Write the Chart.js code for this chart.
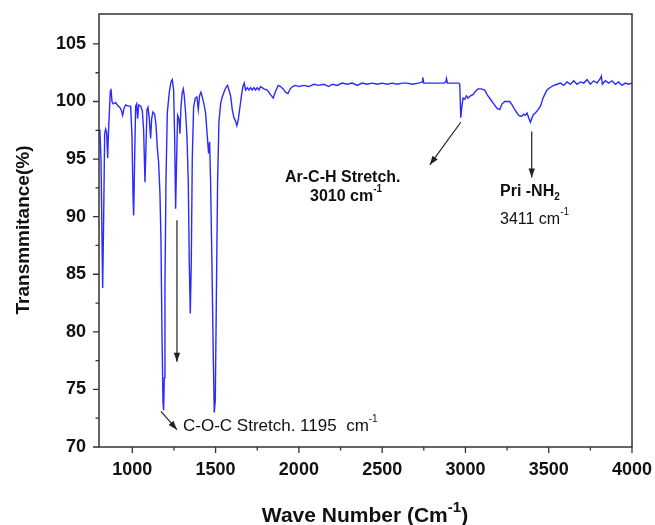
<!DOCTYPE html>
<html>
<head>
<meta charset="utf-8">
<script src="https://cdn.jsdelivr.net/npm/chart.js@4.4.1/dist/chart.umd.min.js"></script>
<style>
  body { margin: 0; background: #fff; }
  canvas { display: block; }
</style>
</head>
<body>
<canvas id="myChart" width="655" height="525"></canvas>
<script>
// FTIR spectrum
const waveNumber = [
  800, 805, 812, 818, 822, 828, 834, 840, 846, 852, 856, 862, 868, 872, 878, 885,
  900, 915, 925, 935, 942, 950, 960, 975, 990, 998, 1004, 1008, 1014, 1020, 1026,
  1032, 1038, 1050, 1060, 1068, 1076, 1082, 1088, 1094, 1102, 1110, 1116, 1124,
  1134, 1142, 1150, 1158, 1166, 1172, 1178, 1184, 1188, 1192, 1196, 1202, 1210,
  1222, 1232, 1240, 1248, 1254, 1260, 1266, 1272, 1280, 1286, 1292, 1300, 1306,
  1312, 1320, 1328, 1336, 1342, 1348, 1354, 1360, 1368, 1378, 1388, 1396, 1404,
  1412, 1420, 1430, 1440, 1450, 1458, 1464, 1470, 1478, 1486, 1492, 1498, 1504,
  1512, 1520, 1530, 1540, 1555, 1565, 1572, 1580, 1590, 1600, 1610, 1620, 1628,
  1636, 1646, 1656, 1664, 1672, 1680, 1690, 1700, 1710, 1720, 1730, 1740, 1750,
  1760, 1770, 1790, 1810, 1830, 1846, 1860, 1876, 1890, 1906, 1920, 1934, 1948,
  1962, 1980, 2000, 2030, 2060, 2090, 2120, 2150, 2180, 2200, 2230, 2260, 2290,
  2320, 2350, 2380, 2410, 2440, 2470, 2500, 2530, 2560, 2590, 2620, 2650, 2680,
  2720, 2740, 2744, 2750, 2790, 2830, 2870, 2882, 2886, 2892, 2930, 2960, 2966,
  2972, 2978, 2986, 2996, 3006, 3016, 3030, 3046, 3060, 3076, 3096, 3116, 3130,
  3150, 3170, 3190, 3206, 3220, 3236, 3250, 3266, 3280, 3300, 3320, 3336, 3350,
  3360, 3370, 3380, 3390, 3400, 3410, 3420, 3436, 3450, 3466, 3476, 3490, 3506,
  3530, 3550, 3570, 3590, 3610, 3630, 3650, 3670, 3690, 3710, 3730, 3750, 3770,
  3790, 3810, 3816, 3822, 3840, 3860, 3880, 3900, 3920, 3940, 3960, 3980, 4000
];
const transmittance = [
  97.5, 97.6, 95.0, 88.0, 83.8, 90.0, 97.2, 97.6, 97.3, 95.1, 97.0, 99.0, 100.9, 101.1, 100.0, 99.8,
  99.9, 99.6, 99.5, 99.2, 98.8, 99.4, 99.7, 99.6, 99.6, 97.0, 92.0, 90.1, 95.0, 99.6, 99.8,
  98.5, 99.7, 99.6, 99.2, 97.5, 93.0, 96.0, 99.3, 99.5, 98.5, 96.8, 98.5, 99.1,
  98.9, 98.0, 96.0, 94.7, 92.0, 88.0, 80.0, 74.0, 73.2, 76.0, 84.0, 93.0, 99.0,
  100.8, 101.7, 101.9, 101.0, 97.0, 90.7, 95.0, 98.8, 98.5, 97.2, 99.5, 100.8, 101.1,
  100.5, 99.0, 97.0, 93.0, 86.0, 81.6, 86.0, 95.0, 99.5, 100.3, 100.4, 99.3, 100.5,
  100.8, 100.4, 99.8, 99.0, 97.0, 95.5, 96.5, 93.0, 86.0, 78.0, 73.0, 74.0, 82.0,
  93.0, 98.2, 99.8, 100.4, 101.0, 101.3, 101.4, 101.0, 100.5, 99.3, 98.6, 98.3, 97.9,
  98.4, 99.5, 100.6, 101.3, 101.6, 101.0, 101.2, 101.0, 101.2, 101.0, 101.2, 101.0, 101.2,
  101.0, 101.3, 101.1, 101.0, 100.6, 100.3, 100.9, 101.4, 101.3, 101.1, 100.8, 100.7, 101.1,
  101.3, 101.4, 101.3, 101.4, 101.3, 101.5, 101.4, 101.5, 101.3, 101.5, 101.4, 101.6, 101.5,
  101.6, 101.4, 101.6, 101.5, 101.6, 101.5, 101.6, 101.5, 101.6, 101.5, 101.6, 101.6, 101.5,
  101.6, 101.7, 102.1, 101.6, 101.6, 101.6, 101.6, 101.7, 102.0, 101.6, 101.6, 101.6, 101.5,
  98.6, 99.5, 100.3, 100.2, 100.5, 100.3, 100.5, 100.6, 100.9, 101.1, 101.1, 101.0, 100.6,
  100.2, 99.8, 99.4, 99.3, 99.8, 100.0, 100.0, 100.0, 99.7, 99.2, 98.8, 98.7, 98.9,
  98.8, 99.0, 98.6, 98.2, 98.6, 98.9, 99.0, 99.3, 99.6, 100.3, 100.6, 101.0, 101.2,
  101.4, 101.5, 101.6, 101.4, 101.7, 101.5, 101.8, 101.5, 101.7, 101.6, 101.9, 101.5, 101.8,
  101.6, 102.0, 102.2, 101.5, 101.8, 101.6, 101.8, 101.5, 101.7, 101.4, 101.6, 101.5, 101.6
];

const xMajorTicks = [1000, 1500, 2000, 2500, 3000, 3500, 4000];
const xMinorTicks = [1250, 1750, 2250, 2750, 3250, 3750];
const yMajorTicks = [70, 75, 80, 85, 90, 95, 100, 105];
const yMinorTicks = [72.5, 77.5, 82.5, 87.5, 92.5, 97.5, 102.5];

const points = waveNumber.map((w, i) => ({ x: w, y: transmittance[i] }));

const AXIS = '#333333';
const FAMILY = '"Liberation Sans", Arial, sans-serif';

function arrow(ctx, x1, y1, x2, y2) {
  ctx.beginPath();
  ctx.moveTo(x1, y1);
  ctx.lineTo(x2, y2);
  ctx.stroke();
  const a = Math.atan2(y2 - y1, x2 - x1);
  const len = 9, half = 3.2;
  ctx.beginPath();
  ctx.moveTo(x2, y2);
  ctx.lineTo(x2 - len * Math.cos(a) + half * Math.sin(a), y2 - len * Math.sin(a) - half * Math.cos(a));
  ctx.lineTo(x2 - len * Math.cos(a) - half * Math.sin(a), y2 - len * Math.sin(a) + half * Math.cos(a));
  ctx.closePath();
  ctx.fill();
}

// text with a raised (sup) or lowered (sub) tail
function richText(ctx, x, y, parts) {
  let cx = x;
  parts.forEach(p => {
    ctx.font = p.font;
    ctx.fillText(p.t, cx, y + (p.dy || 0));
    cx += ctx.measureText(p.t).width;
  });
  return cx;
}

const framePlugin = {
  id: 'frame',
  afterDraw(chart) {
    const { ctx, chartArea: a, scales: { x, y } } = chart;
    ctx.save();
    ctx.strokeStyle = AXIS;
    ctx.lineWidth = 1.5;
    ctx.strokeRect(a.left, a.top, a.right - a.left, a.bottom - a.top);

    ctx.lineWidth = 1.3;
    ctx.beginPath();
    xMajorTicks.forEach(v => { const p = x.getPixelForValue(v); ctx.moveTo(p, a.bottom); ctx.lineTo(p, a.bottom + 6); });
    xMinorTicks.forEach(v => { const p = x.getPixelForValue(v); ctx.moveTo(p, a.bottom); ctx.lineTo(p, a.bottom + 3.5); });
    yMajorTicks.forEach(v => { const p = y.getPixelForValue(v); ctx.moveTo(a.left, p); ctx.lineTo(a.left - 6, p); });
    yMinorTicks.forEach(v => { const p = y.getPixelForValue(v); ctx.moveTo(a.left, p); ctx.lineTo(a.left - 3.5, p); });
    ctx.stroke();

    // axis titles
    ctx.fillStyle = '#111';
    ctx.textBaseline = 'alphabetic';
    const B21 = 'bold 21px ' + FAMILY;
    const B14 = 'bold 15px ' + FAMILY;
    ctx.font = B21;
    const t1 = 'Wave Number (Cm';
    const w1 = ctx.measureText(t1).width;
    const wclose = ctx.measureText(')').width;
    ctx.font = B14;
    const wsup = ctx.measureText('-1').width;
    const startX = 365 - (w1 + wsup + wclose) / 2;
    richText(ctx, startX, 522, [
      { t: t1, font: B21 },
      { t: '-1', font: B14, dy: -10 },
      { t: ')', font: B21 }
    ]);

    ctx.save();
    ctx.translate(29, 230);
    ctx.rotate(-Math.PI / 2);
    ctx.textAlign = 'center';
    ctx.font = 'bold 19px ' + FAMILY;
    ctx.fillText('Transmmitance(%)', 0, 0);
    ctx.restore();

    // annotations
    ctx.strokeStyle = '#222';
    ctx.fillStyle = '#222';
    ctx.lineWidth = 1.2;
    arrow(ctx, x.getPixelForValue(2972), y.getPixelForValue(98.2), x.getPixelForValue(2786), y.getPixelForValue(94.5));
    arrow(ctx, x.getPixelForValue(3398), y.getPixelForValue(97.4), x.getPixelForValue(3398), y.getPixelForValue(93.4));
    arrow(ctx, x.getPixelForValue(1268), y.getPixelForValue(89.7), x.getPixelForValue(1268), y.getPixelForValue(77.4));
    arrow(ctx, x.getPixelForValue(1172), y.getPixelForValue(73.1), x.getPixelForValue(1268), y.getPixelForValue(71.5));

    const B16 = 'bold 16px ' + FAMILY;
    const B10 = 'bold 10px ' + FAMILY;
    const N16 = '16px ' + FAMILY;
    const N10 = '10px ' + FAMILY;
    ctx.fillStyle = '#111';
    ctx.font = B16;
    ctx.fillText('Ar-C-H Stretch.', 285, 182);
    richText(ctx, 310, 201, [
      { t: '3010 cm', font: B16 },
      { t: '-1', font: B10, dy: -9 }
    ]);
    richText(ctx, 500, 196, [
      { t: 'Pri -NH', font: B16 },
      { t: '2', font: B10, dy: 4 }
    ]);
    richText(ctx, 500, 224, [
      { t: '3411 cm', font: N16 },
      { t: '-1', font: N10, dy: -9 }
    ]);
    richText(ctx, 183, 431, [
      { t: 'C-O-C Stretch. 1195  cm', font: '17px ' + FAMILY },
      { t: '-1', font: N10, dy: -9 }
    ]);
    ctx.restore();
  }
};

const tickFont = { family: FAMILY, size: 18, weight: 'bold' };

new Chart(document.getElementById('myChart').getContext('2d'), {
  type: 'line',
  data: {
    datasets: [{
      label: 'FTIR',
      data: points,
      borderColor: '#2a2aff',
      borderWidth: 1.4,
      pointRadius: 0,
      fill: false,
      tension: 0
    }]
  },
  options: {
    responsive: false,
    animation: false,
    layout: { padding: { left: 0, right: 23, top: 14, bottom: 0 } },
    plugins: { legend: { display: false }, tooltip: { enabled: false }, title: { display: false } },
    scales: {
      x: {
        type: 'linear',
        min: 800,
        max: 4000,
        afterBuildTicks: s => { s.ticks = xMajorTicks.map(v => ({ value: v })); },
        afterFit: s => { s.height = 78; s.paddingLeft = 0; s.paddingRight = 0; },
        grid: { display: false, drawTicks: false },
        border: { display: false },
        ticks: { font: tickFont, color: '#111', padding: 12, maxRotation: 0, autoSkip: false, callback: v => String(v) }
      },
      y: {
        min: 70,
        max: 107.6,
        afterBuildTicks: s => { s.ticks = yMajorTicks.map(v => ({ value: v })); },
        afterFit: s => { s.width = 99; s.paddingTop = 0; s.paddingBottom = 0; },
        grid: { display: false, drawTicks: false },
        border: { display: false },
        ticks: { font: tickFont, color: '#111', padding: 13, autoSkip: false, callback: v => String(v) }
      }
    }
  },
  plugins: [framePlugin]
});
</script>
</body>
</html>
